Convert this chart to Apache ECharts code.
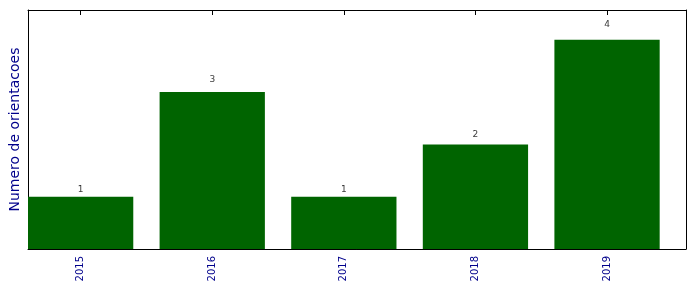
<!DOCTYPE html>
<html><head><meta charset="utf-8">
<script src="https://cdn.jsdelivr.net/npm/echarts@6/dist/echarts.min.js"></script>
<style>html,body{margin:0;padding:0;background:#fff}#c{width:696px;height:292px}</style>
</head><body><div id="c"></div>
<script>
const categories = ['2015', '2016', '2017', '2018', '2019'];
const values = [1, 3, 1, 2, 4];
const yMax = 4.57;

const centers = categories.map((c, i) => i + 0.4);
const font = 'DejaVu Sans';
const chart = echarts.init(document.getElementById('c'));
const labelFor = v => categories[Math.round(v - 0.4)] || '';
chart.setOption({
  animation: false,
  textStyle: { fontFamily: font },
  grid: { left: 27, right: 10, top: 10, bottom: 43, containLabel: false },
  xAxis: [{
    type: 'value', min: 0, max: categories.length, position: 'bottom',
    axisLine: { show: true, onZero: false, lineStyle: { color: '#000', width: 1 } },
    axisTick: { show: true, inside: true, length: 5, customValues: centers, lineStyle: { color: '#000' } },
    axisLabel: { show: true, customValues: centers, rotate: 90, margin: 7, color: '#00008B', fontSize: 10, fontFamily: font, formatter: labelFor },
    splitLine: { show: false }
  }, {
    type: 'value', min: 0, max: categories.length, position: 'top',
    axisLine: { show: true, onZero: false, lineStyle: { color: '#000', width: 1 } },
    axisTick: { show: true, inside: true, length: 5, customValues: centers, lineStyle: { color: '#000' } },
    axisLabel: { show: false },
    splitLine: { show: false }
  }],
  yAxis: [{
    type: 'value', min: 0, max: yMax, position: 'left',
    name: 'Numero de orientacoes', nameLocation: 'middle', nameGap: 6, nameRotate: 90,
    nameTextStyle: { color: '#00008B', fontSize: 14, fontFamily: font },
    axisLine: { show: true, onZero: false, lineStyle: { color: '#000', width: 1 } },
    axisTick: { show: false }, axisLabel: { show: false }, splitLine: { show: false }
  }, {
    type: 'value', min: 0, max: yMax, position: 'right',
    axisLine: { show: true, onZero: false, lineStyle: { color: '#000', width: 1 } },
    axisTick: { show: false }, axisLabel: { show: false }, splitLine: { show: false }
  }],
  series: [{
    type: 'bar', xAxisIndex: 0, yAxisIndex: 0,
    barWidth: '80%',
    data: values.map((v, i) => [centers[i], v]),
    itemStyle: { color: '#006400' }
  }, {
    type: 'scatter', xAxisIndex: 0, yAxisIndex: 0,
    symbolSize: 0, silent: true,
    data: values.map((v, i) => [centers[i], v * 1.05, v]),
    label: { show: true, position: 'top', distance: 0, color: '#000', fontSize: 9, fontFamily: font, formatter: p => p.value[2] }
  }]
});
</script></body></html>
